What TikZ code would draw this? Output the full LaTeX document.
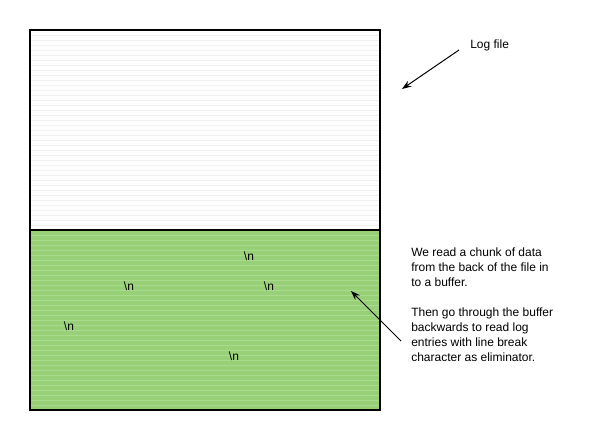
\documentclass[tikz,border=0pt]{standalone}
\usepackage{fontspec}
\setmainfont{Liberation Sans}
\usetikzlibrary{arrows.meta}
\definecolor{bufgreen}{RGB}{151,208,119}
\definecolor{stripegreen}{RGB}{170,218,142}
\definecolor{stripegray}{RGB}{240,240,240}
\begin{document}
\begin{tikzpicture}[x=0.75pt,y=-0.75pt,
  lbl/.style={font=\fontsize{9}{11.25}\selectfont, inner sep=0pt, text=black},
  para/.style={lbl, align=left, anchor=north west},
  pointer/.style={draw=black, line width=0.75pt, -{Stealth[length=7pt,width=5pt]}},
  frame/.style={draw=black, line width=1.5pt}]
\useasboundingbox (0,0) rectangle (590,440);
% upper white part with faint stripes
\fill[white] (30,30) rectangle (380,230);
\foreach \y in {35,40,...,225} \draw[stripegray, line width=0.5pt] (31,\y) -- (379,\y);
% green lower part
\fill[bufgreen] (30,230) rectangle (380,410);
\foreach \y in {235,240,...,405} \draw[stripegreen, line width=0.5pt] (31,\y) -- (379,\y);
\node[frame, minimum width=350*0.75pt, minimum height=200*0.75pt, inner sep=0pt] (log) at (205,130) {};
\node[frame, minimum width=350*0.75pt, minimum height=180*0.75pt, inner sep=0pt] (buf) at (205,320) {};
% newline markers
\node[lbl] (n1) at (249,256) {\textbackslash n};
\node[lbl] (n2) at (129,286) {\textbackslash n};
\node[lbl] (n3) at (269,286) {\textbackslash n};
\node[lbl] (n4) at (69,326) {\textbackslash n};
\node[lbl] (n5) at (234,356) {\textbackslash n};
% labels
\node[lbl, anchor=west] (logtxt) at (470,45) {Log file};
\node[para] (desc) at (411,248) {We read a chunk of data\\from the back of the file in\\to a buffer.\\[11.25pt]Then go through the buffer\\backwards to read log\\entries with line break\\character as eliminator.};
\coordinate (a1s) at (459,50);
\coordinate (a1e) at (402,89);
\coordinate (a2s) at (401,341);
\coordinate (a2e) at (351,291);
\draw[pointer] (a1s) -- (a1e);
\draw[pointer] (a2s) -- (a2e);
\end{tikzpicture}
\end{document}
